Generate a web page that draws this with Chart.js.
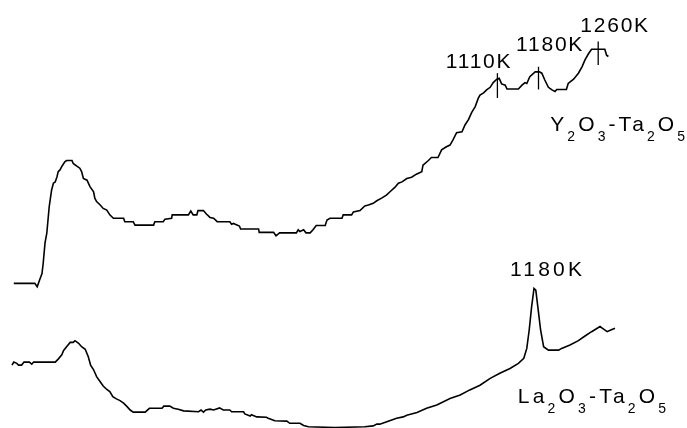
<!DOCTYPE html>
<html>
<head>
<meta charset="utf-8">
<script src="https://cdn.jsdelivr.net/npm/chart.js@4/dist/chart.umd.min.js"></script>
<style>
  html, body { margin: 0; padding: 0; background: #fff; }
  #wrap { width: 687px; height: 428px; }
</style>
</head>
<body>
<div id="wrap"><canvas id="dta" width="687" height="428"></canvas></div>
<script>
// temperatura (K) e segnale (u.a.) - curva Y2O3-Ta2O5
const tempY = [303,338,342,346,350,352,355,358,362,366,369,372,375,377,380,383,388,391,400,402,408,413,416,419,425,430,436,438,441,447,452,458,463,469,486,488,502,505,536,538,552,555,566,567,594,598,602,608,610,619,624,630,636,642,663,666,669,679,681,711,712,736,740,746,774,777,780,786,790,797,802,807,822,825,830,850,852,866,869,880,888,894,902,908,916,924,930,938,944,950,958,966,974,983,985,994,999,1010,1016,1024,1030,1035,1041,1050,1055,1061,1066,1072,1077,1080,1086,1091,1097,1102,1108,1112,1116,1122,1125,1144,1150,1155,1158,1163,1172,1179,1183,1188,1194,1200,1205,1208,1224,1227,1236,1244,1250,1255,1261,1266,1288,1291,1294];
const signalY = [33.8,33.8,33.0,34.6,36.1,38.5,43.2,45.5,51.7,55.6,57.2,57.5,58.7,59.9,60.3,61.1,62.2,62.5,62.5,61.8,61.2,60.7,59.9,58.3,57.9,56.4,55.2,53.7,52.9,52.1,51.3,50.9,49.8,49.0,49.0,48.2,48.2,47.4,47.4,48.2,48.2,48.8,49.0,49.8,49.8,50.7,49.8,49.8,50.8,50.8,50.0,49.2,49.0,48.2,48.2,47.6,47.8,47.2,46.5,46.5,45.7,45.7,44.9,45.6,45.6,46.3,45.9,46.3,45.6,45.6,46.4,47.3,47.3,48.6,49.0,49.0,49.8,49.8,50.5,50.8,51.9,52.1,52.5,53.1,53.7,54.4,55.2,56.2,57.2,57.5,58.3,58.6,59.3,59.9,61.4,62.5,63.2,63.2,65.0,65.7,66.1,67.3,69.0,69.2,70.8,72.1,73.7,75.1,77.0,77.8,78.3,79.0,79.6,80.7,81.5,81.7,80.4,80.1,79.2,79.2,80.1,80.7,80.5,82.1,83.2,83.2,82.9,81.3,79.6,79.0,78.6,79.1,79.1,80.5,81.5,82.9,84.4,86.0,87.5,88.5,88.5,87.1,86.8];

// curva La2O3-Ta2O5
const tempLa = [300,303,308,311,316,320,329,333,336,372,377,383,386,391,397,402,405,411,416,422,427,431,436,441,447,452,458,463,468,474,480,486,491,497,502,522,529,550,553,563,569,577,586,611,615,619,623,630,636,646,652,663,666,686,688,697,699,708,724,727,738,758,763,780,786,794,838,888,902,908,913,927,941,952,958,975,991,1008,1030,1047,1063,1080,1097,1113,1130,1144,1153,1158,1162,1166,1170,1173,1177,1181,1186,1194,1211,1216,1230,1244,1255,1266,1280,1286,1292,1298,1305];
const signalLa = [14.7,15.4,15.1,14.7,14.7,15.4,15.4,14.9,15.4,15.4,16.1,17.1,18.1,19.0,20.0,20.0,20.4,19.8,19.0,18.4,16.7,14.7,13.6,12.0,10.8,9.8,9.0,8.5,7.3,6.8,6.4,5.8,5.1,4.2,3.7,3.7,4.6,4.6,5.1,5.1,4.6,4.4,4.0,3.8,4.2,3.7,4.2,4.4,4.2,4.7,4.2,4.2,3.8,3.8,3.3,2.8,3.1,2.6,2.5,2.3,1.7,1.6,1.1,1.1,0.6,0.3,0.1,0.3,0.5,0.9,0.9,1.6,2.3,2.6,3.0,3.6,4.6,5.4,6.9,7.7,8.9,10.0,11.6,12.8,13.9,15.1,16.3,18.6,22.9,28.3,32.6,32.2,27.6,22.9,19.0,18.2,18.2,18.6,19.4,20.4,21.5,22.5,23.7,23.1,22.5,22.9,23.3];

// trattini verticali sui picchi della curva Y2O3
const markerTemps = [1109, 1177.5, 1277];
const markerLow = [77.1, 79.1, 84.8];
const markerHigh = [82.9, 84.4, 90.3];

// etichette: testo, temperatura (bordo sinistro), segnale (linea di base)
const labels = [
  { parts: [['1110K']], t: 1023, v: 84.0, sp: 1.8 },
  { parts: [['1180K']], t: 1140, v: 88.2, sp: 1.8 },
  { parts: [['1260K']], t: 1247, v: 92.6, sp: 1.8 },
  { parts: [['1180K']], t: 1130, v: 35.4, sp: 3.2 },
  { parts: [['Y'], ['2', 1], ['O'], ['3', 1], ['-Ta'], ['2', 1], ['O'], ['5', 1]], t: 1197, v: 69.4, sp: 3.1 },
  { parts: [['La'], ['2', 1], ['O'], ['3', 1], ['-Ta'], ['2', 1], ['O'], ['5', 1]], t: 1143, v: 5.8, sp: 3.2 }
];

const toPoints = (xs, ys) => xs.map((x, i) => ({ x: x, y: ys[i] }));

const datasets = [
  { data: toPoints(tempY, signalY) },
  { data: toPoints(tempLa, signalLa) }
];
markerTemps.forEach((t, i) => {
  datasets.push({ data: [{ x: t, y: markerLow[i] }, { x: t, y: markerHigh[i] }], borderWidth: 1.3 });
});

// plugin per scrivere le etichette con i pedici
const labelPlugin = {
  id: 'labelPlugin',
  afterDatasetsDraw(chart) {
    const ctx = chart.ctx;
    const xs = chart.scales.x, ys = chart.scales.y;
    ctx.save();
    ctx.fillStyle = '#000';
    ctx.textAlign = 'left';
    ctx.textBaseline = 'alphabetic';
    labels.forEach(lab => {
      let x = xs.getPixelForValue(lab.t);
      const y = ys.getPixelForValue(lab.v);
      lab.parts.forEach(p => {
        const sub = p[1] === 1;
        ctx.font = (sub ? '14px' : '21px') + ' "Liberation Sans", Arial, sans-serif';
        ctx.letterSpacing = lab.sp + 'px';
        ctx.fillText(p[0], x, sub ? y + 10 : y);
        x += ctx.measureText(p[0]).width;
      });
    });
    ctx.restore();
  }
};

new Chart(document.getElementById('dta'), {
  type: 'line',
  data: { datasets: datasets },
  options: {
    responsive: false,
    animation: false,
    devicePixelRatio: 1,
    layout: { padding: 0 },
    elements: {
      line: { borderColor: '#000', borderWidth: 1.6, tension: 0, fill: false },
      point: { radius: 0 }
    },
    scales: {
      x: { type: 'linear', min: 280, max: 1425, display: false },
      y: { min: 0, max: 100, display: false }
    },
    plugins: { legend: { display: false }, tooltip: { enabled: false } }
  },
  plugins: [labelPlugin]
});
</script>
</body>
</html>
